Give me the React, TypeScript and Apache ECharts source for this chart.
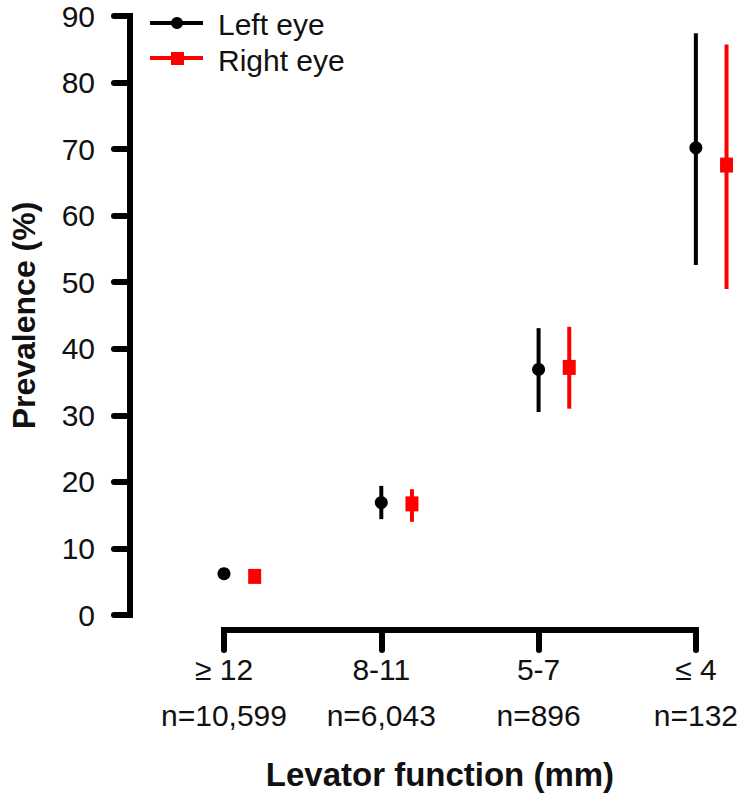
import React, { useEffect, useRef } from "react";
import * as echarts from "echarts";

const categories = ["\u2265 12", "8-11", "5-7", "\u2264 4"];
const sampleSizes = ["n=10,599", "n=6,043", "n=896", "n=132"];
const leftEye = [6.2, 16.9, 36.9, 70.2];
const leftLow = [5.7, 14.4, 30.5, 52.6];
const leftHigh = [6.8, 19.4, 43.1, 87.4];
const rightEye = [5.8, 16.7, 37.2, 67.6];
const rightLow = [5.3, 14.0, 31.0, 49.0];
const rightHigh = [6.4, 18.9, 43.3, 85.7];
const yTicks = [0, 10, 20, 30, 40, 50, 60, 70, 80, 90];

const RIGHT_SHIFT = 0.195;
const FONT = "Liberation Sans, Arial, sans-serif";

export default function App() {
  const ref = useRef<HTMLDivElement>(null);
  useEffect(() => {
    if (!ref.current) return;
    const chart = echarts.init(ref.current, undefined, { renderer: "svg" });

    const leftPts = leftEye.map((v, i) => [i, v]);
    const rightPts = rightEye.map((v, i) => [i + RIGHT_SHIFT, v]);
    const leftErr = leftEye.map((_, i) => [i, leftLow[i], leftHigh[i]]);
    const rightErr = rightEye.map((_, i) => [i + RIGHT_SHIFT, rightLow[i], rightHigh[i]]);

    const errRender = (color: string) => (params: any, api: any) => {
      const x = api.value(0);
      const lo = api.coord([x, api.value(1)]);
      const hi = api.coord([x, api.value(2)]);
      return {
        type: "line",
        shape: { x1: lo[0], y1: lo[1], x2: hi[0], y2: hi[1] },
        style: { stroke: color, lineWidth: 4 },
      };
    };

    chart.setOption({
      animation: false,
      backgroundColor: "#ffffff",
      grid: { left: 222, right: 43, top: 16, bottom: 191 },
      xAxis: {
        type: "value",
        min: 0,
        max: 3,
        interval: 1,
        offset: 15,
        splitLine: { show: false },
        axisLine: { show: true, onZero: false, lineStyle: { color: "#000", width: 6, cap: "square" } },
        axisTick: { show: true, length: 20, lineStyle: { color: "#000", width: 6, cap: "round" } },
        axisLabel: {
          margin: 16,
          color: "#111",
          fontFamily: FONT,
          fontSize: 30,
          lineHeight: 46,
          formatter: (v: number) => {
            const i = Math.round(v);
            return categories[i] + "\n" + sampleSizes[i];
          },
        },
        name: "Levator function (mm)",
        nameLocation: "middle",
        nameGap: 128,
        nameTextStyle: {
          fontFamily: FONT,
          fontSize: 33,
          fontWeight: "bold",
          color: "#111",
          padding: [0, 40, 0, 0],
        },
      },
      yAxis: {
        type: "value",
        min: 0,
        max: 90,
        interval: 10,
        offset: 94,
        splitLine: { show: false },
        axisLine: { show: true, onZero: false, lineStyle: { color: "#000", width: 6, cap: "square" } },
        axisTick: { show: true, length: 16, lineStyle: { color: "#000", width: 6, cap: "round" } },
        axisLabel: {
          margin: 35,
          color: "#111",
          fontFamily: FONT,
          fontSize: 30,
          formatter: (v: number) => (yTicks.includes(v) ? String(v) : ""),
        },
        name: "Prevalence (%)",
        nameLocation: "middle",
        nameGap: 90,
        nameRotate: 90,
        nameTextStyle: {
          fontFamily: FONT,
          fontSize: 32,
          fontWeight: "bold",
          color: "#111",
        },
      },
      series: [
        {
          type: "custom",
          name: "Left eye CI",
          data: leftErr,
          renderItem: errRender("#000000"),
          clip: false,
          encode: { x: 0, y: [1, 2] },
          z: 2,
        },
        {
          type: "custom",
          name: "Right eye CI",
          data: rightErr,
          renderItem: errRender("#ff0000"),
          clip: false,
          encode: { x: 0, y: [1, 2] },
          z: 2,
        },
        {
          type: "scatter",
          name: "Left eye",
          data: leftPts,
          symbol: "circle",
          symbolSize: 13,
          itemStyle: { color: "#000000", opacity: 1 },
          clip: false,
          z: 3,
        },
        {
          type: "scatter",
          name: "Right eye",
          data: rightPts,
          symbol: "rect",
          symbolSize: [13, 15],
          itemStyle: { color: "#ff0000", opacity: 1 },
          clip: false,
          z: 3,
        },
      ],
      graphic: [
        { type: "line", shape: { x1: 150, y1: 23, x2: 203, y2: 23 }, style: { stroke: "#000", lineWidth: 4 } },
        { type: "circle", shape: { cx: 177, cy: 23, r: 6 }, style: { fill: "#000" } },
        { type: "text", x: 218, y: 24, style: { text: "Left eye", font: `30px ${FONT}`, fill: "#111", verticalAlign: "middle" } },
        { type: "line", shape: { x1: 150, y1: 58, x2: 203, y2: 58 }, style: { stroke: "#ff0000", lineWidth: 4 } },
        { type: "rect", shape: { x: 171, y: 52, width: 13, height: 13 }, style: { fill: "#ff0000" } },
        { type: "text", x: 218, y: 60, style: { text: "Right eye", font: `30px ${FONT}`, fill: "#111", verticalAlign: "middle" } },
      ],
    });
    return () => chart.dispose();
  }, []);
  return <div ref={ref} style={{ position: "fixed", left: 0, top: 0, width: 741, height: 806 }} />;
}
